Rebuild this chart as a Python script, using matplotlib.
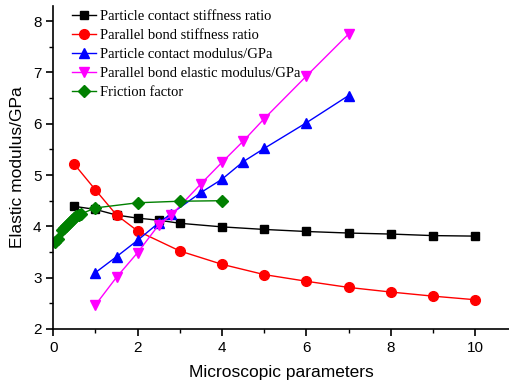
import numpy as np
import matplotlib
matplotlib.use("Agg")
import matplotlib.pyplot as plt
from matplotlib.ticker import MultipleLocator

# data
pc_stiff_x = [0.5, 1, 1.5, 2, 2.5, 3, 4, 5, 6, 7, 8, 9, 10]
pc_stiff_y = [4.39, 4.33, 4.22, 4.16, 4.12, 4.06, 3.99, 3.94, 3.90, 3.87, 3.85, 3.82, 3.81]

pb_stiff_x = [0.5, 1, 1.5, 2, 3, 4, 5, 6, 7, 8, 9, 10]
pb_stiff_y = [5.21, 4.71, 4.22, 3.91, 3.52, 3.26, 3.06, 2.93, 2.81, 2.72, 2.64, 2.57]

pc_mod_x = [1, 1.5, 2, 2.5, 2.8, 3.5, 4, 4.5, 5, 6, 7]
pc_mod_y = [3.10, 3.41, 3.73, 4.07, 4.25, 4.66, 4.92, 5.26, 5.52, 6.02, 6.55]

pb_mod_x = [1, 1.5, 2, 2.5, 2.8, 3.5, 4, 4.5, 5, 6, 7]
pb_mod_y = [2.47, 3.01, 3.49, 4.03, 4.22, 4.83, 5.25, 5.66, 6.10, 6.93, 7.75]

fric_x = [0.05, 0.1, 0.2, 0.25, 0.3, 0.35, 0.4, 0.45, 0.5, 0.55, 0.6, 0.65, 1, 2, 3, 4]
fric_y = [3.70, 3.75, 3.93, 3.96, 4.00, 4.05, 4.09, 4.13, 4.17, 4.20, 4.22, 4.24, 4.36, 4.46, 4.49, 4.50]

W, H = 509, 381
fig = plt.figure(figsize=(W / 100, H / 100), dpi=100)
ax = fig.add_axes([0.1047, 0.1365, 0.8953, 0.8485])

ms = 6
lw = 1.0
ax.plot(pc_stiff_x, pc_stiff_y, "-s", color="black", lw=lw, ms=ms,
        label="Particle contact stiffness ratio")
ax.plot(pb_stiff_x, pb_stiff_y, "-o", color="red", lw=lw, ms=ms + 1,
        label="Parallel bond stiffness ratio")
ax.plot(pc_mod_x, pc_mod_y, "-^", color="blue", lw=lw, ms=ms + 1,
        label="Particle contact modulus/GPa")
ax.plot(pb_mod_x, pb_mod_y, "-v", color="magenta", lw=lw, ms=ms + 1,
        label="Parallel bond elastic modulus/GPa")
ax.plot(fric_x, fric_y, "-D", color="green", lw=lw, ms=ms,
        label="Friction factor")

ax.set_xlim(0, 10.8)
ax.set_ylim(2, 8.3)
ax.xaxis.set_major_locator(MultipleLocator(2))
ax.xaxis.set_minor_locator(MultipleLocator(1))
ax.yaxis.set_major_locator(MultipleLocator(1))
ax.yaxis.set_minor_locator(MultipleLocator(0.5))

for side in ["top", "right"]:
    ax.spines[side].set_visible(False)
for side in ["left", "bottom"]:
    ax.spines[side].set_linewidth(1.2)

ax.tick_params(which="major", direction="out", length=5, width=1.2,
               labelsize=11)
ax.tick_params(which="minor", direction="out", length=3, width=1.0)
for lab in ax.get_xticklabels() + ax.get_yticklabels():
    lab.set_family("Liberation Sans")

ax.set_xlabel("Microscopic parameters", fontsize=12.5, family="Liberation Sans",
              labelpad=7)
ax.set_ylabel("Elastic modulus/GPa", fontsize=12.5, family="Liberation Sans",
              labelpad=6)

ax.legend(loc="upper left", bbox_to_anchor=(72 / W, 1 - 10 / H),
          bbox_transform=fig.transFigure, frameon=False,
          prop={"family": "Liberation Serif", "size": 10.5},
          handlelength=1.65, handletextpad=0.3, labelspacing=0.4,
          borderaxespad=0, borderpad=0)

fig.savefig("out.png", dpi=100)
